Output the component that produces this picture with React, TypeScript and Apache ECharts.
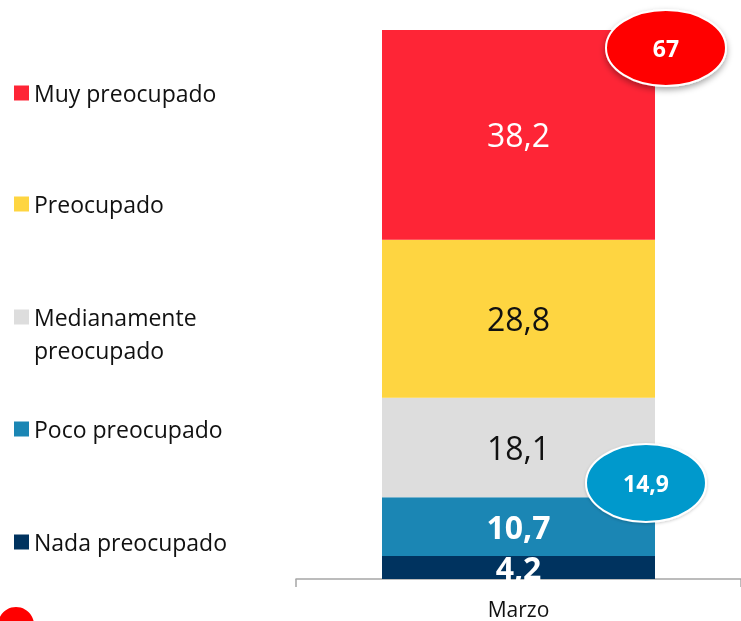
import React, { useEffect, useRef } from "react";
import * as echarts from "echarts";

const categories = ["Marzo"];
const seriesNames = ["Nada preocupado", "Poco preocupado", "Medianamente preocupado", "Preocupado", "Muy preocupado"];
const nadaValues = [4.2];
const pocoValues = [10.7];
const medianamenteValues = [18.1];
const preocupadoValues = [28.8];
const muyValues = [38.2];
const topBubble = "67";
const bottomBubble = "14,9";

const FONT = "'Open Sans', 'Noto Sans', sans-serif";
const colors = ["#00335F", "#1B86B4", "#DDDDDD", "#FED541", "#FE2536"];
const labelColors = ["#ffffff", "#ffffff", "#111111", "#111111", "#ffffff"];
const labelWeights = ["bold", "bold", "normal", "normal", "normal"];
const legendCenters = [542, 429, 317, 204, 93];

const fmt = (v: number) => String(v).replace(".", ",");

export default function App() {
  const ref = useRef<HTMLDivElement>(null);
  useEffect(() => {
    if (!ref.current) return;
    const chart = echarts.init(ref.current, null, { renderer: "svg" });
    const values = [nadaValues, pocoValues, medianamenteValues, preocupadoValues, muyValues];
    const series = seriesNames.map((name, i) => ({
      name,
      type: "bar",
      stack: "total",
      barWidth: 273,
      data: values[i],
      itemStyle: { color: colors[i] },
      label: {
        show: true,
        position: "inside",
        formatter: (p: any) => fmt(p.value),
        color: labelColors[i],
        fontWeight: labelWeights[i],
        fontSize: 32,
        fontFamily: FONT,
      },
    }));
    const legends = seriesNames.map((name, i) => {
      const two = name === "Medianamente preocupado";
      return {
        data: [name],
        orient: "vertical",
        left: 14,
        top: legendCenters[i] - (two ? 49.5 : 16.5),
        padding: 0,
        icon: "rect",
        itemWidth: 15,
        itemHeight: 15,
        itemGap: 7,
        selectedMode: false,
        formatter: two ? " \nMedianamente\npreocupado" : "{name}",
        textStyle: {
          fontFamily: FONT,
          fontSize: 23,
          color: "#111111",
          lineHeight: 33,
        },
      };
    });
    chart.setOption({
      animation: false,
      grid: { left: 296, width: 449, top: 30, bottom: 42 },
      legend: legends,
      xAxis: {
        type: "category",
        data: categories,
        axisLine: { lineStyle: { color: "#A6A6A6", width: 1.5 } },
        axisTick: { show: true, length: 8, lineStyle: { color: "#A6A6A6", width: 1.5 } },
        axisLabel: { fontFamily: FONT, fontSize: 21, color: "#111111", margin: 19 },
      },
      yAxis: { type: "value", min: 0, max: 100, show: false, splitLine: { show: false } },
      series,
      graphic: [
        {
          type: "ellipse",
          shape: { cx: 666, cy: 48, rx: 60, ry: 38 },
          style: { fill: "#FF0000", stroke: "#ffffff", lineWidth: 2, shadowBlur: 6, shadowOffsetY: 3, shadowColor: "rgba(0,0,0,0.35)" },
          z: 100,
        },
        {
          type: "text",
          x: 666,
          y: 48,
          style: { text: topBubble, fill: "#ffffff", font: `bold 23px ${FONT}`, align: "center", verticalAlign: "middle" },
          z: 101,
        },
        {
          type: "ellipse",
          shape: { cx: 646, cy: 483, rx: 60, ry: 39 },
          style: { fill: "#0099CC", stroke: "#ffffff", lineWidth: 2, shadowBlur: 3, shadowOffsetY: 1, shadowColor: "rgba(0,0,0,0.2)" },
          z: 100,
        },
        {
          type: "text",
          x: 646,
          y: 483,
          style: { text: bottomBubble, fill: "#ffffff", font: `bold 23px ${FONT}`, align: "center", verticalAlign: "middle" },
          z: 101,
        },
        {
          type: "circle",
          shape: { cx: 16, cy: 625, r: 18 },
          style: { fill: "#FF0000" },
          z: 100,
        },
      ],
    });
    return () => chart.dispose();
  }, []);
  return <div ref={ref} style={{ position: "fixed", left: 0, top: 0, width: 741, height: 621 }} />;
}
